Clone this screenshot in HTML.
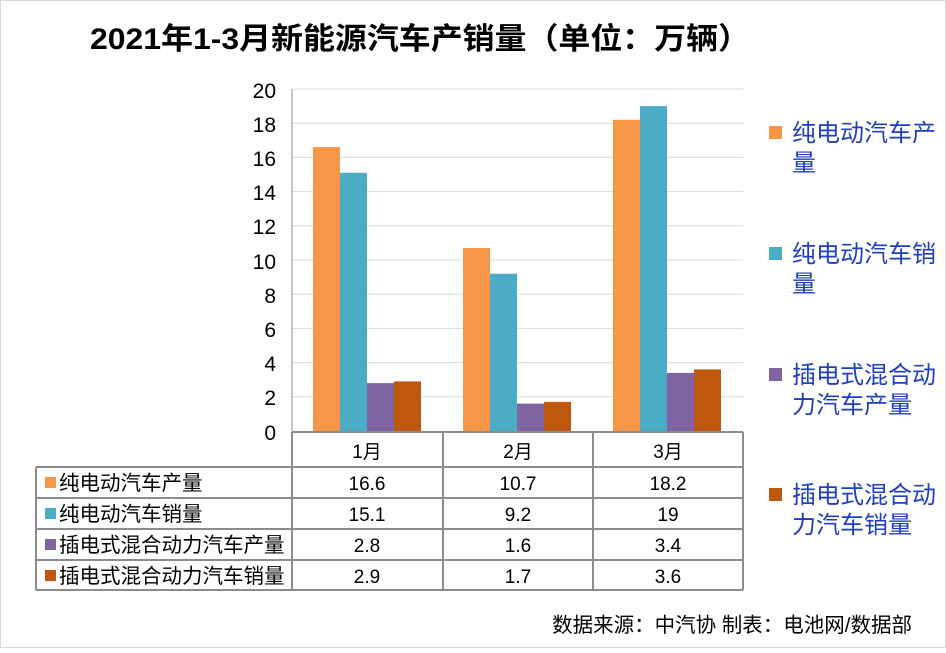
<!DOCTYPE html>
<html><head><meta charset="utf-8"><style>
body{margin:0;background:#fff}
svg text{font-family:"Liberation Sans","Noto Sans CJK SC",sans-serif}
</style></head><body>
<svg width="946" height="648" viewBox="0 0 946 648" xmlns="http://www.w3.org/2000/svg">
<rect x="0.5" y="0.5" width="945" height="647" fill="#fff" stroke="#d9d9d9"/>
<text x="420" y="49" font-size="30" font-weight="bold" text-anchor="middle" fill="#000" textLength="660" lengthAdjust="spacingAndGlyphs">2021年1-3月新能源汽车产销量（单位：万辆）</text>
<g stroke="#d9d9d9" stroke-width="1">
<line x1="292" x2="743" y1="89" y2="89"/><line x1="292" x2="743" y1="123.2" y2="123.2"/>
<line x1="292" x2="743" y1="157.4" y2="157.4"/><line x1="292" x2="743" y1="191.6" y2="191.6"/>
<line x1="292" x2="743" y1="225.8" y2="225.8"/><line x1="292" x2="743" y1="260" y2="260"/>
<line x1="292" x2="743" y1="294.2" y2="294.2"/><line x1="292" x2="743" y1="328.4" y2="328.4"/>
<line x1="292" x2="743" y1="362.6" y2="362.6"/><line x1="292" x2="743" y1="396.8" y2="396.8"/>
</g>
<line x1="292" x2="292" y1="89" y2="431" stroke="#8c8c8c"/>
<g font-size="21" text-anchor="end" fill="#000">
<text x="276" y="98">20</text><text x="276" y="132">18</text><text x="276" y="166">16</text>
<text x="276" y="200">14</text><text x="276" y="234">12</text><text x="276" y="269">10</text>
<text x="276" y="303">8</text><text x="276" y="337">6</text><text x="276" y="371">4</text>
<text x="276" y="405">2</text><text x="276" y="440">0</text>
</g>
<g>
<rect x="313" y="147.1" width="27" height="283.9" fill="#f79646"/>
<rect x="340" y="172.8" width="27" height="258.2" fill="#4bacc6"/>
<rect x="367" y="383.1" width="27" height="47.9" fill="#8064a2"/>
<rect x="394" y="381.4" width="27" height="49.6" fill="#c0570f"/>
<rect x="463" y="248" width="27" height="183" fill="#f79646"/>
<rect x="490" y="273.7" width="27" height="157.3" fill="#4bacc6"/>
<rect x="517" y="403.6" width="27" height="27.4" fill="#8064a2"/>
<rect x="544" y="401.9" width="27" height="29.1" fill="#c0570f"/>
<rect x="613" y="119.8" width="27" height="311.2" fill="#f79646"/>
<rect x="640" y="106.1" width="27" height="324.9" fill="#4bacc6"/>
<rect x="667" y="372.9" width="27" height="58.1" fill="#8064a2"/>
<rect x="694" y="369.4" width="27" height="61.6" fill="#c0570f"/>
</g>
<g stroke="#8c8c8c" stroke-width="2" fill="none">
<line x1="292" x2="743" y1="432" y2="432"/>
<line x1="36" x2="743" y1="467" y2="467"/>
<line x1="36" x2="743" y1="498" y2="498"/>
<line x1="36" x2="743" y1="529" y2="529"/>
<line x1="36" x2="743" y1="560" y2="560"/>
<line x1="36" x2="743" y1="590" y2="590"/>
<line x1="36" x2="36" y1="467" y2="590"/>
<line x1="292" x2="292" y1="432" y2="590"/>
<line x1="443" x2="443" y1="432" y2="590"/>
<line x1="593" x2="593" y1="432" y2="590"/>
<line x1="743" x2="743" y1="432" y2="590"/>
</g>
<g font-size="19" text-anchor="middle" fill="#000">
<text x="367" y="458">1月</text><text x="518" y="458">2月</text><text x="668" y="458">3月</text>
<text x="367" y="490">16.6</text><text x="518" y="490">10.7</text><text x="668" y="490">18.2</text>
<text x="367" y="521">15.1</text><text x="518" y="521">9.2</text><text x="668" y="521">19</text>
<text x="367" y="552">2.8</text><text x="518" y="552">1.6</text><text x="668" y="552">3.4</text>
<text x="367" y="583">2.9</text><text x="518" y="583">1.7</text><text x="668" y="583">3.6</text>
</g>
<rect x="45" y="477" width="11" height="11" fill="#f79646"/>
<rect x="45" y="508" width="11" height="11" fill="#4bacc6"/>
<rect x="45" y="539" width="11" height="11" fill="#8064a2"/>
<rect x="45" y="570" width="11" height="11" fill="#c0570f"/>
<g font-size="20.5" fill="#000">
<text x="59" y="490">纯电动汽车产量</text>
<text x="59" y="521">纯电动汽车销量</text>
<text x="59" y="552">插电式混合动力汽车产量</text>
<text x="59" y="583">插电式混合动力汽车销量</text>
</g>
<rect x="769" y="126" width="13" height="13" fill="#f79646"/>
<rect x="769" y="247" width="13" height="13" fill="#4bacc6"/>
<rect x="769" y="368" width="13" height="13" fill="#8064a2"/>
<rect x="769" y="488" width="13" height="13" fill="#c0570f"/>
<g font-size="24" fill="#1f3fbf">
<text x="792" y="141">纯电动汽车产</text><text x="792" y="171">量</text>
<text x="792" y="262">纯电动汽车销</text><text x="792" y="292">量</text>
<text x="792" y="383">插电式混合动</text><text x="792" y="413">力汽车产量</text>
<text x="792" y="503">插电式混合动</text><text x="792" y="533">力汽车销量</text>
</g>
<text x="912" y="632" font-size="20.5" text-anchor="end" fill="#000">数据来源：中汽协  制表：电池网/数据部</text>
</svg>
</body></html>
